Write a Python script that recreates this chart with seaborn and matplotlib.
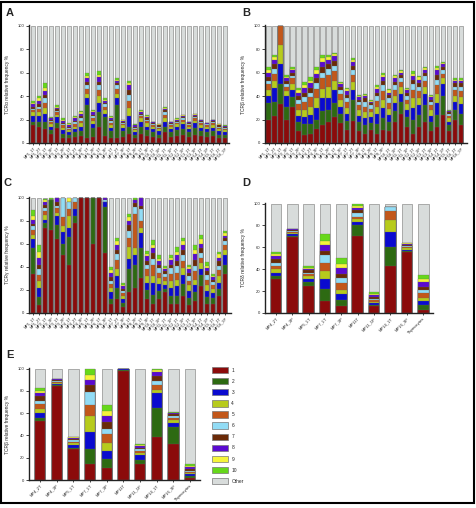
import numpy as np
import matplotlib
matplotlib.use('Agg')
import matplotlib.pyplot as plt
from matplotlib.patches import Patch, Rectangle
import seaborn as sns

# clone ranks 1..10, the rest is "Other"
clone_labels = ['1', '2', '3', '4', '5', '6', '7', '8', '9', '10', 'Other']
clone_colors = ['#8b0b0b', '#2d6a12', '#0a0acf', '#b7cb1c', '#c2571a', '#92dcf5',
                '#6a2a08', '#5a0ad0', '#f5f53a', '#66d81a', '#d8dcdb']

samples_abc = ['MP1_1T', 'MP1_2T', 'MP2_1T', 'MP2_3P', 'MP3_1T', 'MP3_2P', 'MP4_1T', 'MP4_2T',
               'MP4_3P', 'MP5_1T', 'MP5_2P', 'MP6_1T', 'MP6_3P', 'MP7_1T', 'MP7_2T', 'MP7_3P',
               'MP8_1T', 'MP8_2P', 'MP9_1T', 'MP9_3P', 'MP10_1T', 'MP10_2P', 'MP11_1T', 'MP11_1P',
               'MP12_1T', 'MP12_2P', 'MP13_1T', 'MP13_3P', 'MP14_1T', 'MP14_2P', 'MP15_1T',
               'MP16_1T', 'MP16_3P']
samples_de = ['MP4_2T', 'MP4_3P', 'MP5_1T', 'MP7_1T', 'MP7_3P', 'MP11T', 'MP11_1P',
              'MP14_1T', 'MP16_3P', 'Thymocytes']

# % frequency of clones 1..10 per sample (Other = 100 - sum)
tcra_bars = [
    [15, 3, 5, 3, 2, 1, 2, 2, 1, 2], [14, 4, 5, 3, 3, 2, 2, 3, 2, 2], [12, 6, 7, 5, 4, 4, 3, 3, 3, 4],
    [8, 3, 3, 2, 2, 1, 1, 1, .5, .5], [13, 4, 5, 2, 2, 1, 2, 1, 1, 1], [4, 4, 3, 2, 2, 1, 1, 2, 1, 1],
    [4, 3, 2, 2, 1, 1, 1, 1, 1, 1], [5, 4, 3, 2, 2, 2, 1, 2, 1, 1], [6, 4, 4, 3, 2, 2, 2, 2, 1, 1],
    [4, 28, 6, 4, 4, 3, 3, 3, 2, 3], [5, 8, 3, 3, 2, 2, 1, 2, 1, 1], [14, 12, 8, 6, 5, 4, 3, 4, 2, 3],
    [6, 16, 3, 3, 3, 2, 1, 2, 1, 1], [4, 6, 3, 2, 2, 2, 1, 1, 1, 1], [4, 28, 6, 4, 4, 3, 2, 2, 1, 1],
    [5, 5, 3, 2, 1, 1, 1, 1, .5, .5], [8, 6, 9, 7, 6, 5, 4, 4, 2, 2], [4, 3, 2, 2, 1, 1, 1, 1, .5, .5],
    [8, 6, 4, 3, 2, 1, 1, 1, 1, 1], [6, 5, 3, 3, 2, 1, 1, 1, 1, 1], [5, 4, 3, 2, 1, 1, 1, .5, .3, .2],
    [4, 3, 3, 2, 1, 1, 1, .5, .3, .2], [9, 5, 4, 3, 3, 2, 2, 1, 1, 1], [5, 4, 3, 2, 1, 1, 1, .5, .3, .2],
    [6, 5, 3, 2, 1, 1, 1, 1, .5, .5], [7, 5, 4, 2, 2, 1, 1, 1, .5, .5], [5, 4, 3, 2, 1, 1, 1, .5, .3, .2],
    [7, 6, 4, 2, 2, 1, 1, 1, .5, .5], [6, 4, 3, 2, 2, 1, 1, .5, .3, .2], [5, 4, 3, 2, 1, 1, .5, .3, .1, .1],
    [6, 4, 3, 2, 2, 1, 1, .5, .3, .2], [4, 3, 3, 2, 1, 1, 1, .5, .3, .2], [4, 3, 2, 2, 1, 1, 1, .5, .3, .2],
]
tcrb_bars = [
    [20, 14, 6, 5, 5, 3, 3, 4, 2, 3], [23, 12, 12, 6, 6, 4, 4, 4, 2, 2], [33, 17.5, 17, 16, 16.5, 0, 0, 0, 0, 0],
    [20, 11, 9, 4, 4, 2, 3, 2, 1, 2], [31, 8, 6, 5, 5, 2, 3, 2, 1, 2], [10, 8, 5, 5, 5, 4, 3, 3, 2, 2],
    [7, 9, 6, 6, 7, 4, 4, 4, 2, 3], [8, 8, 8, 7, 8, 4, 4, 4, 2, 3], [12, 8, 10, 8, 8, 5, 4, 4, 3, 3],
    [15, 12, 11, 8, 9, 5, 5, 4, 3, 3], [18, 10, 10, 10, 10, 5, 4, 4, 2, 2], [22, 12, 11, 8, 8, 5, 4, 4, 2, 1],
    [17, 8, 6, 6, 5, 3, 3, 2, 1, 1], [11, 8, 6, 5, 5, 3, 3, 3, 2, 1], [19, 18, 8, 7, 6, 4, 4, 3, 2, 1],
    [10, 8, 5, 5, 4, 3, 2, 2, 1, 1], [8, 7, 6, 5, 5, 4, 3, 2, 1, 1], [11, 6, 5, 4, 3, 3, 2, 1, 1, 1],
    [8, 8, 9, 6, 5, 4, 3, 3, 2, 1], [11, 10, 9, 7, 7, 5, 4, 3, 2, 2], [10, 8, 6, 5, 5, 4, 3, 2, 2, 1],
    [18, 9, 7, 6, 5, 4, 3, 3, 2, 1], [25, 10, 7, 6, 4, 3, 3, 2, 1, 1], [14, 8, 6, 5, 4, 3, 3, 2, 1, 1],
    [8, 12, 10, 8, 7, 5, 4, 3, 2, 2], [14, 10, 8, 6, 6, 4, 3, 3, 2, 1], [18, 14, 10, 6, 5, 4, 3, 2, 2, 1],
    [10, 8, 5, 5, 4, 3, 2, 2, 1, 1], [14, 10, 10, 8, 7, 5, 4, 4, 2, 2], [24, 16, 10, 5, 4, 3, 3, 2, 1, 1],
    [10, 5, 3, 3, 2, 2, 1, 1, .5, .5], [20, 8, 7, 5, 5, 3, 3, 2, 1, 1], [15, 10, 8, 6, 5, 4, 3, 2, 1, 1],
]
tcrg_bars = [
    [34, 22, 8, 4, 4, 3, 2, 4, 3, 5], [7, 7, 8, 6, 5, 5, 4, 6, 5, 6], [74, 4, 3, 4, 3, 3, 3, 2, 2, 1],
    [72, 26, 0, 0, 0, 0, 0, 0, 0, 2], [64, 12, 8, 3, 4, 2, 3, 4, 0, 0], [50, 10, 10, 5, 8, 17, 0, 0, 0, 0],
    [42, 24, 8, 10, 6, 6, 0, 0, 4, 0], [78, 6, 6, 0, 6, 4, 0, 0, 0, 0], [100, 0, 0, 0, 0, 0, 0, 0, 0, 0],
    [100, 0, 0, 0, 0, 0, 0, 0, 0, 0], [60, 40, 0, 0, 0, 0, 0, 0, 0, 0], [100, 0, 0, 0, 0, 0, 0, 0, 0, 0],
    [52, 40, 4, 0, 0, 2, 0, 2, 0, 0], [8, 4, 6, 4, 3, 3, 3, 4, 2, 3], [12, 10, 10, 6, 8, 5, 4, 4, 3, 3],
    [5, 4, 3, 3, 2, 2, 2, 2, 1, 2], [18, 20, 9, 10, 8, 6, 5, 4, 3, 3], [22, 20, 8, 6, 30, 6, 3, 3, 0, 2],
    [30, 26, 13, 5, 6, 10, 3, 7, 0, 0], [12, 8, 6, 6, 6, 4, 3, 4, 2, 3], [8, 8, 10, 6, 10, 5, 5, 4, 3, 4],
    [12, 7, 6, 5, 5, 4, 3, 3, 2, 3], [18, 3, 3, 4, 3, 3, 2, 2, 1, 2], [8, 7, 7, 6, 6, 5, 3, 4, 2, 2],
    [8, 7, 8, 6, 6, 6, 4, 5, 3, 4], [15, 10, 8, 6, 6, 5, 5, 4, 3, 3], [7, 6, 6, 5, 4, 4, 3, 3, 2, 2],
    [10, 8, 6, 5, 7, 5, 5, 5, 4, 4], [23, 10, 5, 5, 5, 4, 4, 4, 4, 4], [8, 6, 5, 5, 5, 4, 3, 3, 2, 3],
    [8, 5, 4, 4, 3, 3, 2, 2, 1, 2], [15, 6, 5, 6, 5, 4, 4, 3, 3, 2], [34, 8, 8, 5, 4, 3, 3, 2, 2, 2],
]
tcrd_bars = [
    [31, 3, 3, 3, 3, 3, 3, 3, 2, 2], [69, 1.5, 1.5, 1, 1, 1, 1, .5, .3, .2], [25, 3, 3.5, 2, 2, 1.5, 2, 1.5, 1, 1],
    [11, 11, 9, 7, 8, 7, 4, 5, 4, 6], [6, 6, 5, 4, 6, 5, 4, 5, 4, 5], [70, 10, 3, 3, 2, 3, 3, 2, 2, 2],
    [6, 1.5, 2, 1, 1.5, 1, 1.5, 2, 1, 1.5], [43, 17, 14, 11, 8, 4, 0, 0, 0, 0],
    [56, 1, 1, 1, 1, 1, 1, 1, .5, .5], [3, 4, 4, 3, 4, 3, 3, 4, 3, 4],
]
tcre_bars = [
    [53, 3, 4, 4, 4, 3, 4, 3, 2, 3], [84, 1, 1, 1, 1, 1, 1, .5, .3, .2], [28, 1, 2, 2, 1.5, 1, 1.5, 1, .5, .5],
    [14, 14, 15, 14, 10, 12, 6, 5, 4, 6], [11, 8, 7, 7, 8, 5, 6, 5, 5, 5], [98, 1, .5, .5, 0, 0, 0, 0, 0, 0],
    [14, 4, 4, 2, 2, 1.5, 1.5, 1.5, .5, 1], [39, 26, 13, 3, 4, 4, 4, 4, 2, 1],
    [32, 16, 3, 3, 2, 1.5, 1.5, 1, .5, .5], [2, 1.5, 1.5, 1.5, 1, 1, 1.5, 1.5, 1, 1.5],
]

W, H = 476, 508
sns.set_style('ticks')
plt.rcParams['font.family'] = ['Liberation Sans', 'DejaVu Sans']
fig = plt.figure(figsize=(W / 100, H / 100), dpi=100)


def px_axes(left, top, right, bottom):
    return fig.add_axes([left / W, 1 - bottom / H, (right - left) / W, (bottom - top) / H])


def draw_panel(ax, samples, bars, ylabel, width, lab_x, xlo, xhi, xfs):
    cum = np.cumsum(np.array(bars, dtype=float), axis=1)
    sns.barplot(x=samples, y=[100] * len(samples), color=clone_colors[-1], saturation=1,
                width=width, edgecolor='#777777', linewidth=0.4, ax=ax)
    for i in range(9, -1, -1):
        sns.barplot(x=samples, y=cum[:, i], color=clone_colors[i], saturation=1,
                    width=width, edgecolor='#666666', linewidth=0.2, ax=ax)
    ax.set_ylim(0, 100.5)
    ax.set_xlim(xlo, xhi)
    ax.set_yticks([0, 20, 40, 60, 80, 100])
    ax.tick_params(axis='y', labelsize=3, length=2, width=0.6, pad=1.5)
    ax.tick_params(axis='x', labelsize=xfs, length=1.5, width=0.6, pad=1)
    for t in ax.get_xticklabels():
        t.set_rotation(45)
        t.set_ha('right')
        t.set_rotation_mode('anchor')
    ax.set_xlabel('')
    ax.set_ylabel(ylabel, fontsize=3.5)
    ax.yaxis.set_label_coords(lab_x, 0.5)
    sns.despine(ax=ax)
    for s in ['left', 'bottom']:
        ax.spines[s].set_linewidth(1.0)
        ax.spines[s].set_color('#222222')


axA = px_axes(29, 25, 229, 143)
draw_panel(axA, samples_abc, tcra_bars, 'TCR\u03b1 relative frequency %', 0.7, -0.095, -0.67, 32.6, 2.8)
axB = px_axes(265, 25, 467, 143)
draw_panel(axB, samples_abc, tcrb_bars, 'TCR\u03b2 relative frequency %', 0.75, -0.094, -0.6, 33.0, 2.8)
axC = px_axes(29, 197, 231, 313)
draw_panel(axC, samples_abc, tcrg_bars, 'TCR\u03b3 relative frequency %', 0.7, -0.095, -0.67, 33.0, 2.8)
axD = px_axes(265, 203, 433, 313)
draw_panel(axD, samples_de, tcrd_bars, 'TCR\u03b4 relative frequency %', 0.65, -0.113, -0.67, 9.6, 3)
axE = px_axes(29, 368, 200, 480)
draw_panel(axE, samples_de, tcre_bars, 'TCR\u03b2 relative frequency %', 0.62, -0.111, -0.66, 9.6, 3)

for letter, x, y in [('A', 10, 13.5), ('B', 246, 13.5), ('C', 7, 183), ('D', 246, 183), ('E', 10, 355)]:
    fig.text(x / W, 1 - y / H, letter, fontsize=8, weight='bold', ha='center', va='center')

handles = [Patch(facecolor=c, edgecolor='#777777', linewidth=0.5) for c in clone_colors]
fig.legend(handles, clone_labels, loc='upper left', bbox_to_anchor=(210 / W, 1 - 365 / H),
           frameon=False, fontsize=3.5, handlelength=3.2, handleheight=1.6,
           labelspacing=1.0, handletextpad=0.8, borderaxespad=0)

fig.patches.append(Rectangle((0.002, 1 - 503 / H), 0.994, 503 / H - 0.003, transform=fig.transFigure,
                             fill=False, edgecolor='black', linewidth=1.5))

fig.savefig('out.png', dpi=100)
